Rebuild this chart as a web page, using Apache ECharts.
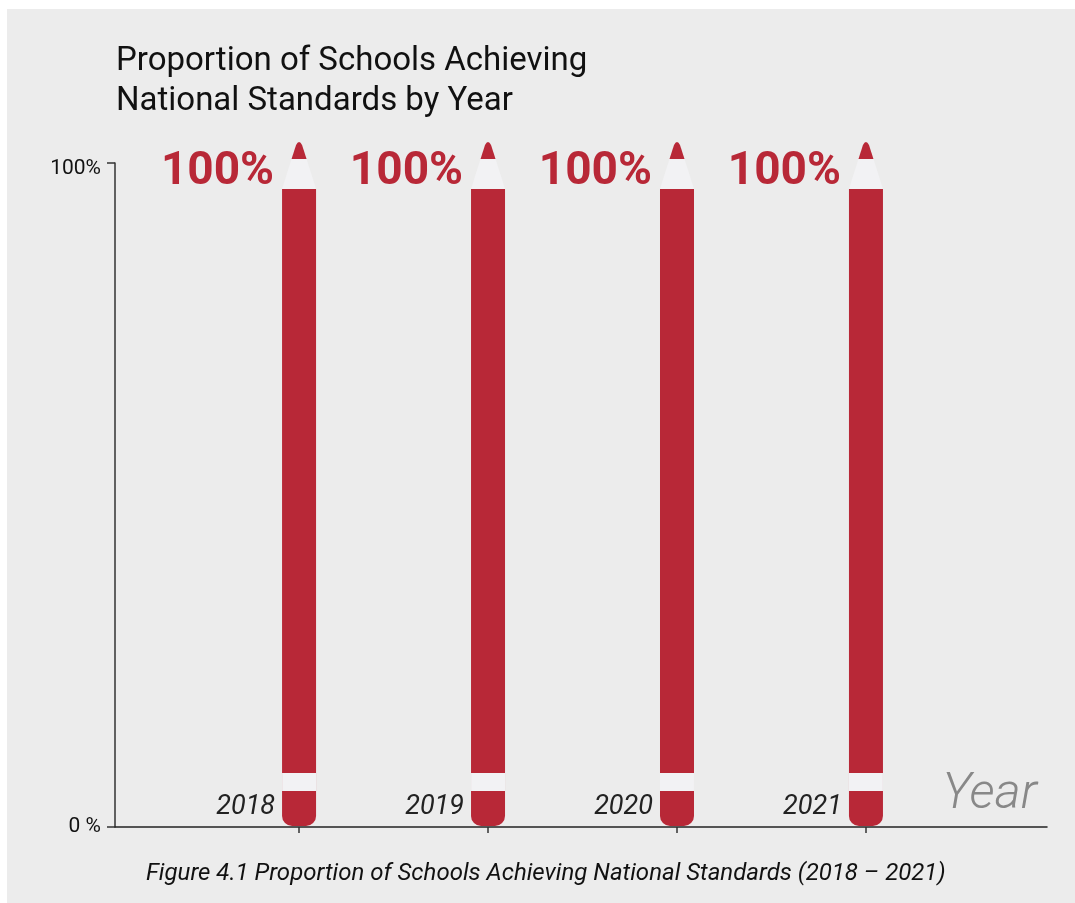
<!DOCTYPE html>
<html>
<head>
<meta charset="utf-8">
<script src="https://cdn.jsdelivr.net/npm/echarts@6/dist/echarts.min.js"></script>
<style>
  html, body { margin: 0; padding: 0; background: #fff; }
  #chartBox {
    position: absolute;
    left: 7px;
    top: 9px;
    width: 1068px;
    height: 894px;
    background: #ececec;
  }
</style>
</head>
<body>
<div id="chartBox"></div>
<script>
// data
const years = ['2018', '2019', '2020', '2021']
const proportions = [100, 100, 100, 100]
const yTickLabels = ['0 %', '100%']

const red = '#b82837'
const paper = '#f2f2f4'

// pencil shape, drawn around the scaled value
function renderPencil (params, api) {
  const top = api.coord([api.value(0), api.value(1)])
  const base = api.coord([api.value(0), 0])
  const cx = top[0]
  const yTop = top[1]
  const w = 17
  const bodyTop = yTop + 26
  const bodyBottom = base[1] - 1
  return {
    type: 'group',
    children: [
      { // body
        type: 'rect',
        shape: { x: cx - w, y: bodyTop, width: w * 2, height: bodyBottom - bodyTop, r: [0, 0, 10, 10] },
        style: { fill: red }
      },
      { // band near the end
        type: 'rect',
        shape: { x: cx - w, y: base[1] - 54, width: w * 2, height: 18 },
        style: { fill: paper }
      },
      { // sharpened wood
        type: 'polygon',
        shape: { points: [[cx - w, bodyTop], [cx + w, bodyTop], [cx + 7.5, yTop - 4], [cx - 7.5, yTop - 4]] },
        style: { fill: paper }
      },
      { // lead
        type: 'path',
        shape: {
          pathData: 'M' + (cx - 7.5) + ' ' + (yTop - 4) +
            ' L' + (cx - 3) + ' ' + (yTop - 18) +
            ' Q' + cx + ' ' + (yTop - 24) + ' ' + (cx + 3) + ' ' + (yTop - 18) +
            ' L' + (cx + 7.5) + ' ' + (yTop - 4) + ' Z'
        },
        style: { fill: red }
      },
      { // value label
        type: 'text',
        style: {
          x: cx - 25, y: yTop + 9,
          text: api.value(1) + '%',
          align: 'right', verticalAlign: 'middle',
          fill: red, font: 'bold 46px Roboto'
        }
      },
      { // year label
        type: 'text',
        style: {
          x: cx - 24, y: base[1] - 20,
          text: years[params.dataIndex],
          align: 'right', verticalAlign: 'middle',
          fill: '#222', font: 'italic 27px Roboto'
        }
      }
    ]
  }
}

const chartBox = echarts.init(document.getElementById('chartBox'))
const option = {
  textStyle: { fontFamily: 'Roboto' },
  title: [
    {
      text: 'Proportion of Schools Achieving\nNational Standards by Year',
      left: 104,
      top: 28,
      textStyle: { fontSize: 33, fontWeight: 400, color: '#111', lineHeight: 40 }
    },
    {
      text: 'Year',
      right: 33,
      top: 756,
      textStyle: { fontSize: 50, fontWeight: 300, fontStyle: 'italic', color: '#888' }
    },
    {
      text: 'Figure 4.1 Proportion of Schools Achieving National Standards (2018 – 2021)',
      left: 134,
      top: 848,
      textStyle: { fontSize: 24, fontWeight: 400, fontStyle: 'italic', color: '#111' }
    }
  ],
  grid: { left: 108, right: 28, top: 154, bottom: 76 },
  xAxis: {
    type: 'value',
    min: 2017.026,
    max: 2021.958,
    splitLine: { show: false },
    axisLabel: { show: false },
    axisLine: { show: true, lineStyle: { color: '#222', width: 1.5 } },
    axisTick: {
      show: true,
      customValues: years.map(Number),
      length: 6,
      lineStyle: { color: '#333', width: 1.5 }
    }
  },
  yAxis: {
    type: 'value',
    min: 0,
    max: 100,
    interval: 100,
    splitLine: { show: false },
    axisLine: { show: true, lineStyle: { color: '#333', width: 1.5 } },
    axisTick: { show: true, length: 8, lineStyle: { color: '#333', width: 1.5 } },
    axisLabel: {
      margin: 14,
      fontSize: 21,
      color: '#111',
      formatter: (v) => (v === 100 ? '{t|' + yTickLabels[1] + '}' : yTickLabels[0]),
      rich: {
        t: { fontSize: 21, color: '#111', padding: [12, 0, 0, 0] }
      }
    }
  },
  series: [
    {
      type: 'custom',
      clip: false,
      renderItem: renderPencil,
      data: years.map((y, i) => [Number(y), proportions[i]])
    }
  ]
}
chartBox.setOption(option)
</script>
</body>
</html>
